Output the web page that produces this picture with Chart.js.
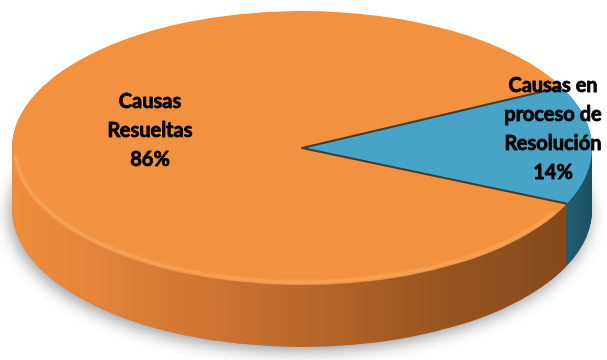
<!DOCTYPE html>
<html>
<head>
<meta charset="utf-8">
<script src="https://cdn.jsdelivr.net/npm/chart.js@4.4.1/dist/chart.umd.min.js"></script>
<style>
  html, body { margin: 0; padding: 0; background: #fff; }
  #wrap { width: 607px; height: 360px; }
</style>
</head>
<body>
<div id="wrap"><canvas id="causasChart"></canvas></div>
<script>
const categorias = ["Causas Resueltas", "Causas en proceso de Resolución"];
const etiquetas = [["Causas", "Resueltas"], ["Causas en", "proceso de", "Resolución"]];
const valores = [86, 14];

const coloresTapa = ["#F2913F", "#47A4C7"];

// elipse de la tapa y grosor del disco (px de pantalla)
const DISCO = { cx: 302, cy: 148, rx: 290, ry: 137, prof: 62 };
// centro de cada rótulo y separación de líneas
const ROTULOS = [{ x: 150, y: 102 }, { x: 553, y: 86 }];
const INTERLINEA = 29;

// dibuja un arco con otro relleno sin tocar las opciones del elemento
function pintarArco(arc, ctx, relleno) {
  const copia = Object.create(arc);
  copia.options = Object.assign({}, arc.options, { backgroundColor: relleno, borderWidth: 0 });
  Chart.ArcElement.prototype.draw.call(copia, ctx);
}

const pie3d = {
  id: "pie3d",
  beforeDatasetsDraw(chart) {
    const ctx = chart.ctx;
    const arcs = chart.getDatasetMeta(0).data;
    const { x, y, outerRadius: r } = arcs[0];
    const sx = DISCO.rx / r, sy = DISCO.ry / r;

    ctx.save();
    ctx.translate(DISCO.cx, DISCO.cy);
    ctx.scale(sx, sy);
    ctx.translate(-x, -y);

    const ladoNaranja = ctx.createLinearGradient(x - r, 0, x + r, 0);
    ladoNaranja.addColorStop(0, "#F08D3A");
    ladoNaranja.addColorStop(0.15, "#E4823A");
    ladoNaranja.addColorStop(0.45, "#C06C2E");
    ladoNaranja.addColorStop(0.75, "#98541F");
    ladoNaranja.addColorStop(1, "#83471C");
    const ladoAzul = ctx.createLinearGradient(x + r * 0.8, 0, x + r, 0);
    ladoAzul.addColorStop(0, "#2A6F87");
    ladoAzul.addColorStop(1, "#1C4F61");
    const lados = [ladoNaranja, ladoAzul];

    // capas apiladas hacia abajo para el canto del disco
    for (let d = DISCO.prof; d >= 1; d--) {
      ctx.save();
      ctx.translate(0, d / sy);
      if (d === DISCO.prof) {
        ctx.shadowColor = "rgba(0,0,0,0.4)";
        ctx.shadowBlur = 16;
        ctx.shadowOffsetX = -2;
        ctx.shadowOffsetY = 4;
      }
      arcs.forEach((arc, i) => pintarArco(arc, ctx, lados[i]));
      ctx.restore();
    }
    // la tapa la dibuja el propio dataset con esta transformación activa
  },
  afterDatasetsDraw(chart) {
    const ctx = chart.ctx;
    ctx.restore();

    const arcs = chart.getDatasetMeta(0).data;
    const aPantalla = (ang) => [DISCO.cx + Math.cos(ang) * DISCO.rx, DISCO.cy + Math.sin(ang) * DISCO.ry];

    // brillo suave del borde de la tapa
    ctx.save();
    ctx.beginPath();
    ctx.ellipse(DISCO.cx, DISCO.cy, DISCO.rx - 3, DISCO.ry - 3, 0, 0.5, Math.PI - 0.05);
    ctx.strokeStyle = "rgba(255,200,140,0.35)";
    ctx.lineWidth = 3;
    ctx.filter = "blur(1px)";
    ctx.stroke();
    ctx.restore();

    // sombra en los cortes de la porción azul
    const azul = arcs[1];
    ctx.save();
    ctx.strokeStyle = "rgba(50,45,40,0.85)";
    ctx.lineWidth = 2;
    ctx.lineJoin = "round";
    const p1 = aPantalla(azul.startAngle), p2 = aPantalla(azul.endAngle);
    ctx.beginPath();
    ctx.moveTo(p1[0], p1[1]);
    ctx.lineTo(DISCO.cx, DISCO.cy);
    ctx.lineTo(p2[0], p2[1]);
    ctx.stroke();
    ctx.restore();
  },
  afterDraw(chart) {
    const ctx = chart.ctx;
    const total = valores.reduce((a, b) => a + b, 0);
    ctx.save();
    ctx.font = "bold 20px Lato, 'Open Sans', sans-serif";
    ctx.fillStyle = "#000";
    ctx.strokeStyle = "#000";
    ctx.lineWidth = 0.8;
    ctx.lineJoin = "round";
    ctx.textAlign = "center";
    ctx.textBaseline = "middle";
    etiquetas.forEach((lineas, i) => {
      const pct = Math.round(valores[i] / total * 100) + "%";
      const todas = lineas.concat([pct]);
      todas.forEach((t, k) => {
        const ty = ROTULOS[i].y + k * INTERLINEA;
        ctx.fillText(t, ROTULOS[i].x, ty);
        ctx.strokeText(t, ROTULOS[i].x, ty); // trazo fino para engrosar la letra
      });
    });
    ctx.restore();
  }
};

new Chart(document.getElementById("causasChart"), {
  type: "pie",
  data: {
    labels: categorias,
    datasets: [{
      data: valores,
      backgroundColor: coloresTapa,
      borderWidth: 0,
      clip: false,
    }],
  },
  options: {
    responsive: true,
    maintainAspectRatio: false,
    animation: false,
    events: [],
    rotation: 114,
    layout: { padding: 0 },
    plugins: {
      legend: { display: false },
      tooltip: { enabled: false },
    },
  },
  plugins: [pie3d],
});
</script>
</body>
</html>
